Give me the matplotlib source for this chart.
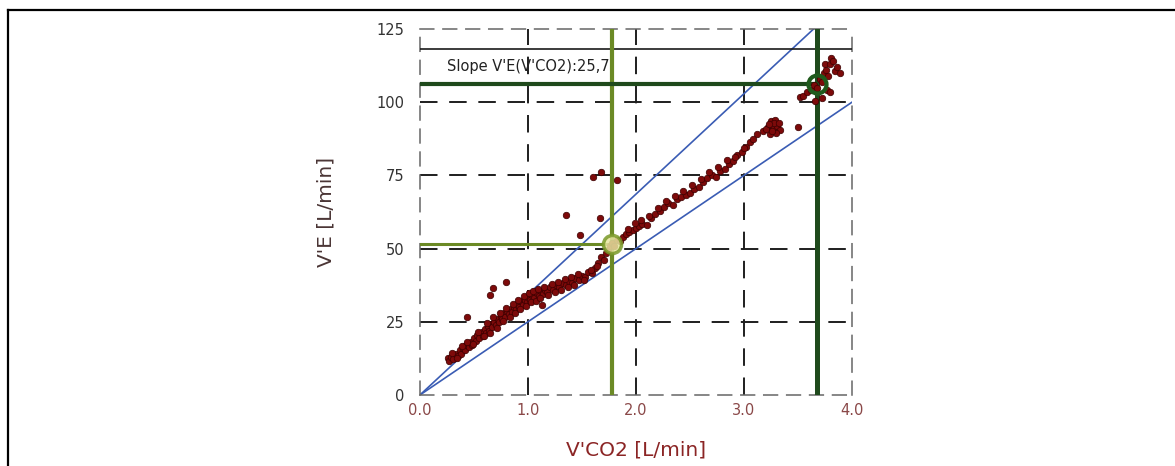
import matplotlib
matplotlib.use("Agg")
import matplotlib.pyplot as plt
from matplotlib.lines import Line2D

# ---- data ----
vco2 = [0.26, 0.27, 0.29, 0.31, 0.33, 0.35, 0.37, 0.38, 0.40, 0.42, 0.43, 0.45, 0.47, 0.48,
        0.50, 0.52, 0.53, 0.55, 0.57, 0.58, 0.60, 0.61, 0.63, 0.64, 0.66, 0.67, 0.69, 0.70,
        0.72, 0.73, 0.75, 0.76, 0.78, 0.79, 0.81, 0.82, 0.84, 0.85, 0.87, 0.89, 0.90, 0.92,
        0.94, 0.95, 0.97, 0.99, 1.00, 1.02, 1.04, 1.06, 1.08, 1.10, 1.12, 1.14, 1.16, 1.18,
        1.20, 1.23, 1.26, 1.29, 1.32, 1.35, 1.38, 1.41, 1.44, 1.47, 1.50, 1.53, 1.56, 1.59,
        1.62, 1.65, 1.68, 1.70, 1.72, 1.74, 1.76, 1.78, 1.80, 1.82, 1.85, 1.88, 1.91, 1.94,
        1.97, 2.00, 2.03, 2.06, 2.10, 2.14, 2.18, 2.22, 2.26, 2.30, 2.34, 2.38, 2.42, 2.46,
        2.50, 2.54, 2.58, 2.62, 2.66, 2.70, 2.74, 2.78, 2.82, 2.86, 2.90, 2.94, 2.98, 3.02,
        3.06, 3.12, 3.18, 3.22, 3.25, 3.27, 3.29, 3.31, 3.33, 3.30, 3.24, 3.50,
        3.52, 3.55, 3.58, 3.62, 3.65, 3.68, 3.70, 3.72, 3.74, 3.75, 3.76, 3.78, 3.80, 3.81,
        3.82, 3.84, 3.77, 3.72, 3.66, 3.80, 3.86, 3.89,
        0.44, 0.65, 0.68, 0.80, 1.13, 1.35, 1.48, 1.67, 1.60, 1.68, 1.82,
        # extra points thickening the band
        0.30, 0.34, 0.39, 0.44, 0.49, 0.54, 0.59, 0.62, 0.65, 0.68, 0.71, 0.74, 0.77, 0.80,
        0.83, 0.86, 0.88, 0.91, 0.93, 0.96, 0.98, 1.01, 1.03, 1.05, 1.07, 1.09, 1.11, 1.15,
        1.19, 1.22, 1.25, 1.28, 1.31, 1.34, 1.37, 1.40, 1.43, 1.46, 1.52, 1.58, 1.64,
        1.93, 1.99, 2.05, 2.12, 2.20, 2.28, 2.36, 2.44, 2.52, 2.60, 2.68, 2.76, 2.84, 2.92,
        3.00, 3.08, 3.20, 3.26, 3.28, 3.23, 3.32]
ve = [12.5, 11.5, 13.0, 12.2, 14.0, 13.4, 15.2, 14.1, 16.0, 15.3, 17.1, 16.4, 18.0, 17.2,
      19.3, 18.4, 20.5, 19.6, 21.4, 20.3, 22.5, 21.2, 23.4, 22.0, 24.2, 23.1, 25.0, 24.0,
      26.1, 25.0, 27.0, 25.8, 27.9, 26.6, 28.6, 27.5, 29.5, 28.3, 30.0, 29.2, 31.0, 30.1,
      32.0, 30.8, 32.5, 31.6, 33.4, 32.3, 34.0, 33.0, 35.0, 33.8, 35.4, 34.6, 36.0, 35.2,
      36.8, 36.0, 37.4, 36.8, 38.2, 37.5, 39.0, 38.3, 40.0, 39.2, 40.8, 40.2, 42.0, 41.5,
      43.5, 45.0, 47.0, 46.0, 48.5, 49.6, 51.0, 52.0, 51.0, 53.0, 52.5, 54.0, 55.0, 55.8,
      56.5, 57.0, 57.8, 58.5, 58.2, 60.5, 61.8, 63.0, 64.2, 65.5, 65.0, 66.8, 67.5, 68.2,
      69.0, 70.5, 71.2, 72.8, 74.0, 75.2, 74.6, 76.5, 77.2, 78.8, 80.0, 82.0, 83.0, 84.8,
      86.5, 89.0, 90.0, 91.5, 93.5, 91.0, 94.0, 92.0, 90.5, 89.5, 89.0, 91.5,
      101.8, 102.0, 103.5, 104.0, 106.0, 105.0, 108.0, 107.0, 110.0, 113.0, 111.0, 109.0, 113.0, 115.0,
      114.0, 110.5, 104.0, 101.5, 100.5, 103.5, 112.0, 110.0,
      26.6, 34.0, 36.5, 38.6, 30.7, 61.5, 54.6, 60.4, 74.4, 76.0, 73.4,
      14.5, 12.8, 16.8, 18.0, 17.5, 21.5, 20.0, 24.5, 21.0, 26.8, 23.0, 28.0, 25.2, 29.8,
      26.8, 31.2, 28.0, 32.6, 29.4, 33.8, 30.4, 34.8, 31.6, 35.6, 32.2, 36.2, 33.2, 36.8,
      34.0, 37.8, 35.2, 38.6, 36.0, 39.6, 36.8, 40.4, 37.6, 41.2, 39.4, 42.8, 44.2,
      56.8, 58.8, 59.6, 61.2, 64.0, 66.2, 67.8, 69.6, 71.8, 73.6, 76.0, 78.0, 80.2, 81.2,
      84.5, 87.5, 91.0, 90.2, 92.8, 92.5, 93.0]

x_ticks = [0.0, 1.0, 2.0, 3.0, 4.0]
x_tick_labels = ["0.0", "1.0", "2.0", "3.0", "4.0"]
y_ticks = [0, 25, 50, 75, 100, 125]
y_tick_labels = ["0", "25", "50", "75", "100", "125"]

band_slopes = [34.3, 25.0]          # blue reference lines through origin
vt1 = (1.78, 51.6)                  # first threshold (olive)
vt2 = (3.68, 106.2)                 # second threshold (dark green)
upper_level = 118.2                 # black horizontal line
slope_text = "Slope V'E(V'CO2):25,7"

# ---- figure ----
fig = plt.figure(figsize=(11.75, 4.66), dpi=100)
fig.patch.set_facecolor("white")
ax = fig.add_axes([0.3574, 0.1524, 0.3677, 0.7854])
ax.set_xlim(0, 4.0)
ax.set_ylim(0, 125)

# dashed grid
dash = (0, (9, 6))
for xv in x_ticks[1:-1]:
    ax.axvline(xv, color="#1e1e1e", lw=1.4, ls=dash, zorder=1)
for yv in y_ticks[1:-1]:
    ax.axhline(yv, color="#1e1e1e", lw=1.4, ls=dash, zorder=1)
for sp in ax.spines.values():
    sp.set_linestyle(dash)
    sp.set_color("#666666")
    sp.set_linewidth(1.1)

# blue lines
for s in band_slopes:
    xe = min(4.0, 125.0 / s)
    ax.plot([0, xe], [0, s * xe], color="#3a5cb4", lw=1.2, zorder=2)

# black horizontal line
ax.plot([0, 4.0], [upper_level, upper_level], color="#1a1a1a", lw=1.2, zorder=3)

# threshold lines
ax.plot([vt1[0], vt1[0]], [0, 125], color="#6b8a25", lw=3.0, zorder=3)
ax.plot([0, vt1[0]], [vt1[1], vt1[1]], color="#6b8a25", lw=2.2, zorder=3)
ax.plot([vt2[0], vt2[0]], [0, 125], color="#1f4a1c", lw=3.6, zorder=3)
ax.plot([0, vt2[0]], [vt2[1], vt2[1]], color="#1f4a1c", lw=3.0, zorder=3)

# scatter
ax.scatter(vco2, ve, s=22, color="#7d0a0a", edgecolors="#3a0000", linewidths=0.5, zorder=4)

# threshold circles
ax.plot([vt1[0]], [vt1[1]], marker="o", ms=13, mfc="#e8e6a0", mec="#7a9a2a", mew=2.5, zorder=5, alpha=0.85)
ax.plot([vt2[0]], [vt2[1]], marker="o", ms=13, mfc="none", mec="#1f5a1c", mew=3.0, zorder=5)

ax.text(0.25, 112.2, slope_text, fontsize=10.5, color="#222222", va="center", ha="left", zorder=6)

ax.set_xticks(x_ticks)
ax.set_xticklabels(x_tick_labels, color="#8a4848", fontsize=10.5)
ax.set_yticks(y_ticks)
ax.set_yticklabels(y_tick_labels, color="#333333", fontsize=10.5)
ax.tick_params(axis="x", length=0, pad=6)
ax.tick_params(axis="y", length=0, pad=11)

ax.set_xlabel("V'CO2 [L/min]", fontsize=14.5, color="#8b2525", labelpad=16)
ax.set_ylabel("V'E [L/min]", fontsize=14.5, color="#4a3535", labelpad=30)

# outer frame (top and left)
fig.add_artist(Line2D([7.5 / 1175, 1.0], [1 - 10 / 466, 1 - 10 / 466], transform=fig.transFigure,
                      color="black", lw=1.6))
fig.add_artist(Line2D([7.5 / 1175, 7.5 / 1175], [0, 1 - 10 / 466], transform=fig.transFigure,
                      color="black", lw=1.6))

fig.savefig("out.png", dpi=100)
